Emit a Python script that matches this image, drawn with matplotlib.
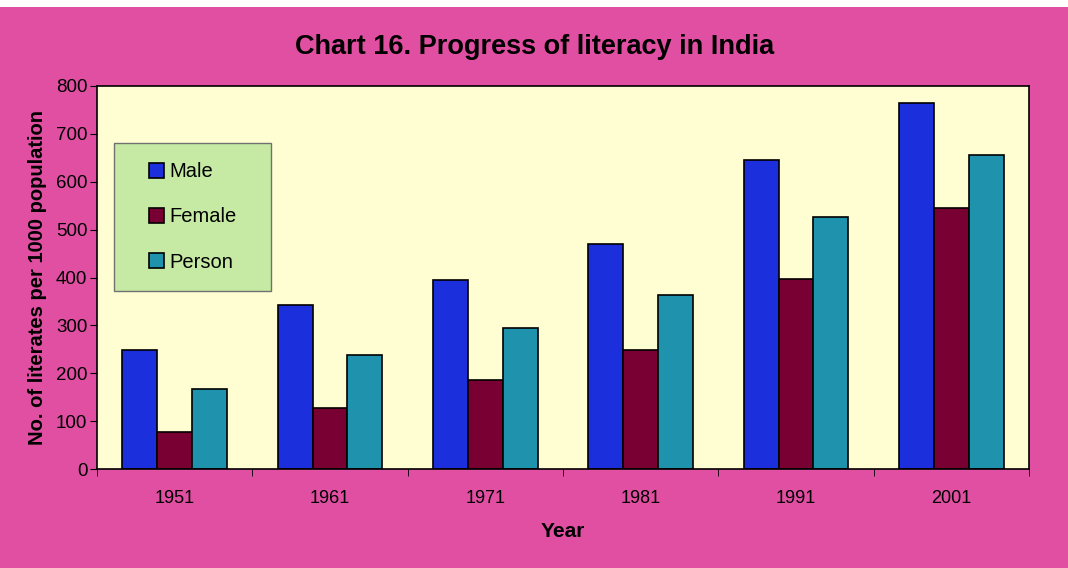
import matplotlib.pyplot as plt
import numpy as np
from matplotlib.patches import Rectangle

# Datos (literatos por 1000 habitantes)
years = ['1951', '1961', '1971', '1981', '1991', '2001']
male = [249, 343, 394, 470, 645, 764]
female = [77, 127, 186, 249, 397, 546]
person = [167, 239, 294, 364, 527, 656]

plt.rcParams['font.family'] = ['Liberation Sans', 'DejaVu Sans']

bg_pink = '#E04FA2'
c_male = '#1B2FDC'
c_female = '#780032'
c_person = '#1F93AE'

fig = plt.figure(figsize=(10.68, 5.68), dpi=100, facecolor=bg_pink)
ax = fig.add_axes([97/1068, 1-469/568, (1029-97)/1068, (469-86)/568])
ax.set_facecolor('#FEFED2')

x = np.arange(len(years))
w = 0.225
ax.bar(x - w, male, w, color=c_male, edgecolor='black', linewidth=1.2, label='Male')
ax.bar(x, female, w, color=c_female, edgecolor='black', linewidth=1.2, label='Female')
ax.bar(x + w, person, w, color=c_person, edgecolor='black', linewidth=1.2, label='Person')

ax.set_xlim(-0.5, len(years) - 0.5)
ax.set_ylim(0, 800)
ax.set_yticks(range(0, 801, 100))
ax.set_xticks(x)
ax.set_xticklabels(years, fontsize=13)
ax.set_xticks(np.arange(-0.5, len(years)), minor=True)
ax.tick_params(axis='x', which='major', length=0, pad=15)
ax.tick_params(axis='x', which='minor', length=5, direction='out', color='black')
ax.tick_params(axis='y', length=5, direction='out', labelsize=13.5, pad=2)

for sp in ax.spines.values():
    sp.set_linewidth(1.2)
    sp.set_color('black')

ax.set_xlabel('Year', fontsize=15, fontweight='bold', labelpad=11)
ax.set_ylabel('No. of literates per 1000 population', fontsize=14.5, fontweight='bold', labelpad=6)

fig.text(535/1068, 1-47/568, 'Chart 16. Progress of literacy in India',
         ha='center', va='center', fontsize=19.5, fontweight='bold')

# caja verde de la leyenda
ax.add_patch(Rectangle((114/1068, 1-291/568), (271-114)/1068, (291-143)/568,
                       transform=fig.transFigure, facecolor='#C6EAA4',
                       edgecolor='#707070', linewidth=1, zorder=4, clip_on=False))

leg = ax.legend(loc='center', bbox_to_anchor=(193/1068, 1-217/568),
                bbox_transform=fig.transFigure, borderaxespad=0,
                frameon=False, fontsize=14.5, labelspacing=1.3,
                handlelength=0.75, handleheight=0.75, handletextpad=0.25,
                borderpad=0)
leg.set_zorder(6)

# franja blanca superior del escaneo
fig.patches.append(Rectangle((0, 1-7/568), 1, 7/568, transform=fig.transFigure,
                             facecolor='white', edgecolor='none'))

plt.savefig('out.png', dpi=100, facecolor=bg_pink)
plt.close()
